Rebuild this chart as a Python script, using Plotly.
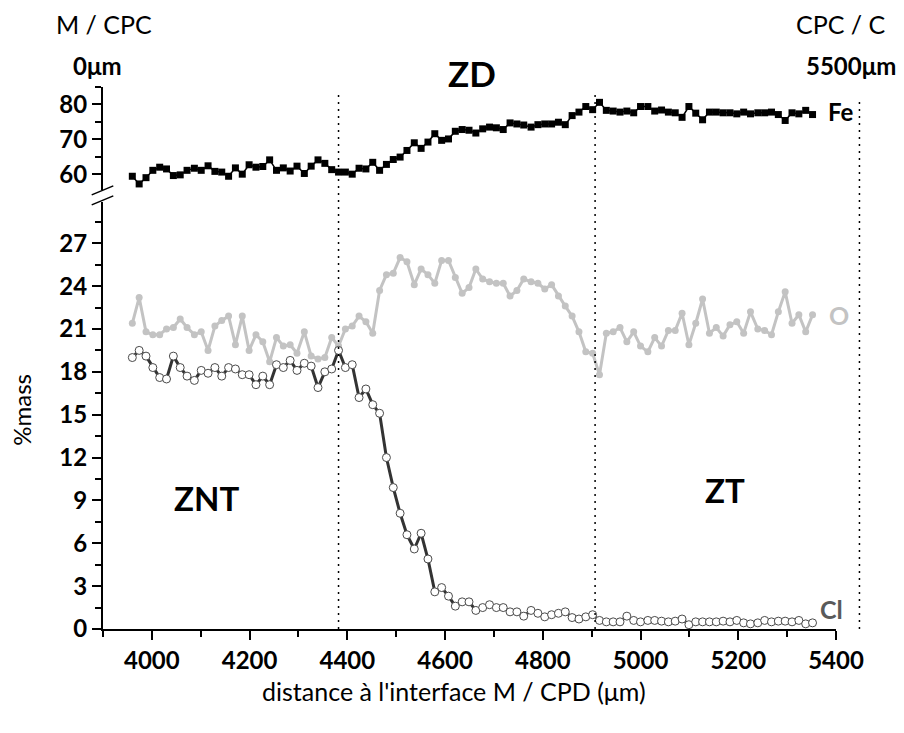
import plotly.graph_objects as go

# ---- data ----
distance = [3960, 3974, 3988, 4002, 4016, 4030, 4044, 4058, 4072, 4087,
            4101, 4115, 4129, 4143, 4157, 4171, 4185, 4199, 4213, 4227,
            4241, 4255, 4269, 4283, 4297, 4312, 4326, 4340, 4354, 4368,
            4382, 4396, 4410, 4424, 4438, 4452, 4466, 4480, 4494, 4508,
            4522, 4537, 4551, 4565, 4579, 4593, 4607, 4621, 4635, 4649,
            4663, 4677, 4691, 4705, 4719, 4733, 4747, 4761, 4776, 4790,
            4804, 4818, 4832, 4846, 4860, 4874, 4888, 4902, 4916, 4930,
            4944, 4958, 4972, 4986, 5000, 5015, 5029, 5043, 5057, 5071,
            5085, 5099, 5113, 5127, 5141, 5155, 5169, 5183, 5197, 5211,
            5225, 5240, 5254, 5268, 5282, 5296, 5310, 5324, 5338, 5352]

fe = [59.4, 57.2, 59.0, 61.1, 62.0, 61.5, 59.6, 59.8, 61.1, 61.7,
      61.1, 62.4, 60.8, 60.6, 59.4, 61.8, 60.0, 62.7, 62.0, 62.2,
      64.1, 61.1, 61.8, 60.9, 62.3, 60.2, 62.3, 64.1, 63.1, 61.3,
      60.6, 60.6, 60.0, 61.7, 61.5, 63.4, 61.1, 62.8, 64.2, 64.9,
      66.8, 69.0, 67.4, 69.2, 71.6, 69.7, 70.1, 72.3, 72.8, 72.6,
      71.8, 73.0, 73.5, 73.3, 72.8, 74.7, 74.4, 74.1, 73.5, 74.2,
      74.4, 74.4, 74.9, 74.2, 76.8, 77.8, 79.4, 78.5, 80.6, 78.3,
      78.1, 77.8, 78.1, 77.6, 79.4, 79.4, 78.1, 78.4, 77.8, 77.6,
      76.3, 79.4, 77.5, 75.6, 77.8, 77.8, 77.6, 77.6, 77.3, 77.8,
      77.3, 77.6, 77.6, 77.8, 77.1, 75.4, 77.6, 77.3, 78.3, 77.1]

o = [21.4, 23.2, 20.8, 20.6, 20.6, 21.0, 21.1, 21.7, 21.1, 20.6,
     20.8, 19.5, 21.2, 21.6, 21.9, 19.9, 21.9, 19.5, 20.6, 20.1,
     18.7, 20.4, 19.8, 19.9, 19.3, 20.8, 19.1, 18.9, 19.0, 20.4,
     19.8, 21.0, 21.2, 21.9, 21.5, 20.7, 23.7, 24.8, 24.9, 26.0,
     25.7, 24.1, 25.2, 24.8, 24.2, 25.8, 25.8, 24.6, 23.5, 23.9,
     25.2, 24.5, 24.3, 24.2, 24.2, 23.3, 23.7, 24.5, 24.3, 24.2,
     23.8, 24.1, 23.3, 22.6, 21.9, 20.8, 19.4, 19.3, 17.8, 20.7,
     20.8, 21.1, 20.1, 20.8, 19.8, 19.4, 20.4, 19.8, 20.9, 20.9,
     22.1, 19.9, 21.4, 23.1, 20.7, 21.1, 20.5, 21.3, 21.5, 20.7,
     22.2, 21.0, 20.9, 20.6, 22.2, 23.6, 21.4, 22.0, 20.8, 22.0]

cl = [19.0, 19.5, 19.1, 18.3, 17.6, 17.5, 19.1, 18.3, 17.7, 17.4,
      18.1, 17.9, 18.3, 17.7, 18.3, 18.2, 17.8, 17.8, 17.1, 17.7,
      17.1, 18.5, 18.3, 18.8, 18.1, 18.6, 18.4, 16.9, 18.0, 18.2,
      19.5, 18.3, 18.5, 16.2, 16.8, 15.7, 15.1, 12.0, 9.9, 8.1,
      6.6, 5.6, 6.7, 4.9, 2.6, 2.9, 2.3, 1.6, 1.9, 1.9,
      1.3, 1.5, 1.7, 1.5, 1.5, 1.2, 1.2, 0.9, 1.3, 1.1,
      0.85, 1.0, 1.1, 1.2, 0.8, 0.7, 0.85, 1.0, 0.6, 0.5,
      0.5, 0.5, 0.9, 0.6, 0.5, 0.6, 0.6, 0.55, 0.5, 0.55,
      0.7, 0.3, 0.5, 0.5, 0.5, 0.5, 0.55, 0.5, 0.6, 0.43,
      0.36, 0.43, 0.6, 0.5, 0.55, 0.55, 0.5, 0.6, 0.36, 0.43]

zone_limits = [4382, 4907]
outer_limit = 5448

x_ticks = [4000, 4200, 4400, 4600, 4800, 5000, 5200, 5400]
low_ticks = [0, 3, 6, 9, 12, 15, 18, 21, 24, 27]
high_ticks = [60, 70, 80]

# ---- figure ----
FONT = "Lato"
X_RANGE = [3900, 5400]
OFF = 8  # page body margin of the html page

fig = go.Figure()

fig.add_trace(go.Scatter(
    x=distance, y=o, xaxis="x", yaxis="y", mode="lines+markers",
    line=dict(color="#c3c3c3", width=3),
    marker=dict(symbol="circle", size=7, color="#c3c3c3"),
    showlegend=False, cliponaxis=False))

fig.add_trace(go.Scatter(
    x=distance, y=cl, xaxis="x", yaxis="y", mode="lines+markers",
    line=dict(color="#333333", width=3),
    marker=dict(symbol="circle", size=8, color="white",
                line=dict(color="#4a4a4a", width=1)),
    showlegend=False, cliponaxis=False))

fig.add_trace(go.Scatter(
    x=distance, y=fe, xaxis="x", yaxis="y2", mode="lines+markers",
    line=dict(color="black", width=1.5),
    marker=dict(symbol="square", size=7, color="black"),
    showlegend=False, cliponaxis=False))

# plot area geometry in window pixels
PL, PR, PT, PB = 103, 836, 87, 629.5   # plot-area edges
PW, PH = PR - PL, PB - PT
bot_top_px = 202           # top of lower panel
top_bot_px = 190           # bottom of upper panel


def py(p):
    return (PB - p) / PH


def px(p):
    return (p - PL) / PW


low_dom = [0, py(bot_top_px)]
high_dom = [py(top_bot_px), 1]
low_max = (PB - bot_top_px) / 14.3
high_min = 85 - (top_bot_px - PT) / 3.49

TICKFONT = dict(family=FONT, size=24, color="black", weight="bold")
axis_common = dict(showgrid=False, zeroline=False, showline=True,
                   linecolor="black", linewidth=2, ticks="outside",
                   tickwidth=2, ticklen=9, tickcolor="black",
                   tickfont=TICKFONT)

W, H = 904 - OFF, 733 - OFF
fig.update_layout(
    width=W, height=H,
    margin=dict(l=PL - OFF, r=W - (PR - OFF), t=PT - OFF, b=H - (PB - OFF)),
    paper_bgcolor="white", plot_bgcolor="white",
    xaxis=dict(range=X_RANGE, anchor="y", tickvals=x_ticks,
               minor=dict(dtick=100, tick0=3900, ticks="outside",
                          ticklen=6, tickwidth=2, tickcolor="black"),
               **axis_common),
    yaxis=dict(range=[0, low_max], domain=low_dom, anchor="x",
               tickvals=low_ticks,
               minor=dict(dtick=1.5, tick0=0, ticks="outside",
                          ticklen=6, tickwidth=2, tickcolor="black"),
               **axis_common),
    yaxis2=dict(range=[high_min, 85], domain=high_dom, anchor="x",
                tickvals=high_ticks,
                minor=dict(dtick=5, tick0=55, ticks="outside",
                           ticklen=6, tickwidth=2, tickcolor="black"),
                **axis_common),
)

# dotted zone limits
dot_line = dict(color="black", width=1.5, dash="2px,5px")
for xv in zone_limits:
    fig.add_shape(type="line", xref="x", yref="paper",
                  x0=xv, x1=xv, y0=0, y1=py(92), line=dot_line)
xo = (outer_limit - X_RANGE[0]) / (X_RANGE[1] - X_RANGE[0])
fig.add_shape(type="line", xref="paper", yref="paper",
              x0=xo, x1=xo, y0=0, y1=py(98), line=dot_line)

# axis break marks
for (a, b) in [((91.7, 195), (113.3, 186)), ((91.7, 205), (113.3, 196))]:
    fig.add_shape(type="line", xref="paper", yref="paper",
                  x0=px(a[0]), y0=py(a[1]), x1=px(b[0]), y1=py(b[1]),
                  line=dict(color="black", width=1.5))


def ann(text, x, y, size, bold=False, color="black", xanchor="center",
        angle=0):
    fig.add_annotation(
        text=text, xref="paper", yref="paper", x=x, y=y,
        xanchor=xanchor, yanchor="middle", showarrow=False,
        textangle=angle,
        font=dict(family=FONT, size=size, color=color,
                  weight="bold" if bold else "normal"))


ann("M / CPC", px(54), py(24), 25, xanchor="left")
ann("0μm", px(71), py(65), 24, bold=True, xanchor="left")
ann("CPC / C", px(888), py(24), 25, xanchor="right")
ann("5500μm", px(898), py(65), 24, bold=True, xanchor="right")
ann("ZD", px(472), py(73), 35, bold=True)
ann("ZNT", px(206.5), py(498), 33, bold=True)
ann("ZT", px(724.5), py(490), 33, bold=True)
ann("Fe", px(840.5), py(112), 24, bold=True)
ann("O", px(839), py(315), 25, bold=True, color="#c3c3c3")
ann("Cl", px(831), py(609), 25, bold=True, color="#5a5a5a")
ann("%mass", px(22), py(410), 24, angle=-90)
ann("distance à l'interface M / CPD (μm)", px(454), py(692), 25)

fig.write_html("out.html")
